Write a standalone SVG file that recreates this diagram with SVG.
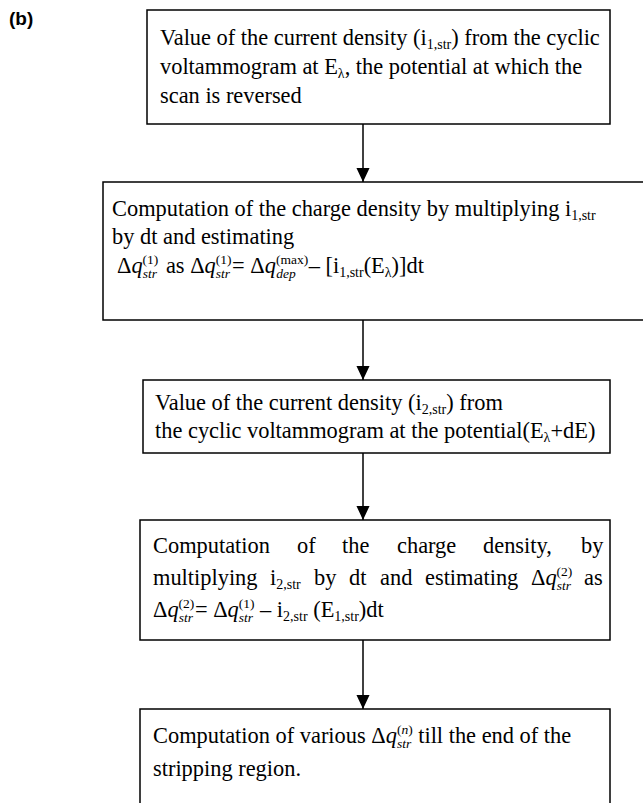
<svg xmlns="http://www.w3.org/2000/svg" width="643" height="803" viewBox="0 0 643 803">
<defs>
<style>
.box{fill:#fff;stroke:#000;stroke-width:1.5}
.t{font-family:"Liberation Serif","Times New Roman",serif;font-size:22.4px;fill:#000}
.s{font-size:14px}
.ss{font-size:13.5px}
.i{font-style:italic}
.lbl{font-family:"Liberation Sans",Arial,sans-serif;font-size:19px;font-weight:bold;fill:#000}
.c{stroke:#000;stroke-width:1.5;fill:none}
</style>
<marker id="ah" markerWidth="14" markerHeight="14" refX="15" refY="7" orient="auto" markerUnits="userSpaceOnUse" viewBox="0 0 15 14"><path d="M0,0 L15,7 L0,14 z" fill="#000"/></marker>
</defs>
<rect width="643" height="803" fill="#fff"/>
<text class="lbl" x="9" y="25">(b)</text>

<g id="connectors">
<line class="c" x1="363" y1="124" x2="363" y2="182" marker-end="url(#ah)"/>
<line class="c" x1="363" y1="320" x2="363" y2="380" marker-end="url(#ah)"/>
<line class="c" x1="363" y1="453" x2="363" y2="520" marker-end="url(#ah)"/>
<line class="c" x1="363" y1="640" x2="363" y2="709" marker-end="url(#ah)"/>
</g>

<g id="node1">
<rect class="box" x="147" y="10" width="463" height="114"/>
<text class="t" x="160" y="45">Value of the current density (i<tspan class="s" dy="4">1,str</tspan><tspan dy="-4">) from the cyclic</tspan></text>
<text class="t" x="160" y="74">voltammogram at E<tspan class="s" dy="4">λ</tspan><tspan dy="-4">, the potential at which the</tspan></text>
<text class="t" x="160" y="103">scan is reversed</text>
</g>

<g id="node2">
<rect class="box" x="103" y="182" width="550" height="138"/>
<text class="t" x="112" y="216">Computation of the charge density by multiplying i<tspan class="s" dy="4">1,str</tspan></text>
<text class="t" x="112" y="244">by dt and estimating</text>
<text class="t" x="117" y="273">Δ<tspan class="i">q</tspan><tspan class="ss" dy="-9">(1)</tspan><tspan class="ss i" dx="-15.7" dy="14">str</tspan><tspan dy="-5" dx="9">as Δ</tspan><tspan class="i">q</tspan><tspan class="ss" dy="-9">(1)</tspan><tspan class="ss i" dx="-15.7" dy="14">str</tspan><tspan dy="-5" dx="2">= Δ</tspan><tspan class="i">q</tspan><tspan class="ss" dy="-9">(max)</tspan><tspan class="ss i" dx="-32" dy="14">dep</tspan><tspan dy="-5" dx="13">– [i</tspan><tspan class="s" dy="4">1,str</tspan><tspan dy="-4">(E</tspan><tspan class="s" dy="4">λ</tspan><tspan dy="-4">)]dt</tspan></text>
</g>

<g id="node3">
<rect class="box" x="143" y="380" width="467" height="73"/>
<text class="t" x="155" y="410">Value of the current density (i<tspan class="s" dy="4">2,str</tspan><tspan dy="-4">) from</tspan></text>
<text class="t" x="155" y="438">the cyclic voltammogram at the potential(E<tspan class="s" dy="4">λ</tspan><tspan dy="-4">+dE)</tspan></text>
</g>

<g id="node4">
<rect class="box" x="140" y="520" width="470" height="120"/>
<text class="t" y="553"><tspan x="153">Computation</tspan><tspan x="297">of</tspan><tspan x="342">the</tspan><tspan x="397">charge</tspan><tspan x="483">density,</tspan><tspan x="581">by</tspan></text>
<text class="t" y="585"><tspan x="153">multiplying</tspan><tspan x="270">i</tspan><tspan class="s" dy="4">2,str</tspan><tspan x="314" dy="-4">by</tspan><tspan x="349">dt</tspan><tspan x="380">and</tspan><tspan x="425">estimating</tspan><tspan x="531">Δ</tspan><tspan class="i">q</tspan><tspan class="ss" dy="-9">(2)</tspan><tspan class="ss i" dx="-15.7" dy="14">str</tspan><tspan x="584" dy="-5">as</tspan></text>
<text class="t" x="153" y="617">Δ<tspan class="i">q</tspan><tspan class="ss" dy="-9">(2)</tspan><tspan class="ss i" dx="-15.7" dy="14">str</tspan><tspan dy="-5" dx="2">= Δ</tspan><tspan class="i">q</tspan><tspan class="ss" dy="-9">(1)</tspan><tspan class="ss i" dx="-15.7" dy="14">str</tspan><tspan dy="-5" dx="7">– i</tspan><tspan class="s" dy="4">2,str</tspan><tspan dy="-4"> (E</tspan><tspan class="s" dy="4">1,str</tspan><tspan dy="-4">)dt</tspan></text>
</g>

<g id="node5">
<rect class="box" x="140" y="709" width="470" height="120"/>
<text class="t" x="153" y="743">Computation of various Δ<tspan class="i">q</tspan><tspan class="ss" dy="-9">(<tspan class="i">n</tspan>)</tspan><tspan class="ss i" dx="-15.7" dy="14">str</tspan><tspan dy="-5" dx="7">till the end of the</tspan></text>
<text class="t" x="153" y="776">stripping region.</text>
</g>
</svg>
